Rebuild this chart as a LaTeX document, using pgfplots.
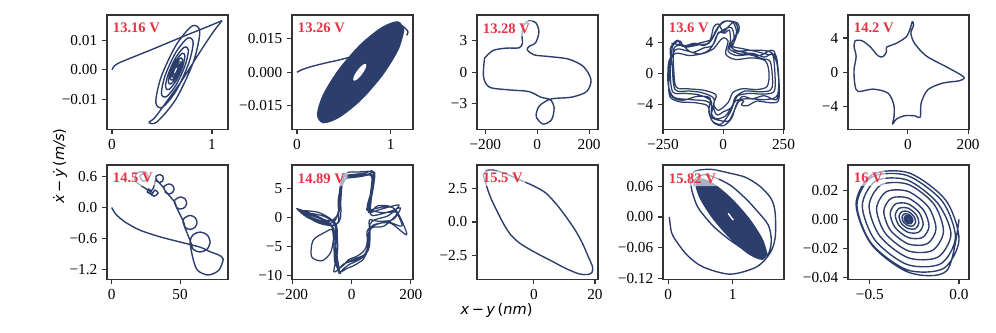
\documentclass[border=0pt]{standalone}
\usepackage{fontspec}
\setmainfont{Liberation Serif}
\newfontfamily\dv{DejaVu Sans}
\usepackage{pgfplots}
\pgfplotsset{compat=1.18}
\definecolor{navy}{HTML}{2C3E6C}
\definecolor{vred}{HTML}{E63446}
\pgfplotsset{
  panel/.style={scale only axis, width=87.12pt, height=82.3pt, anchor=south west,
    axis line style={black!80, line width=0.8pt}, tick align=outside, tick pos=left,
    major tick length=3.5pt, tick style={black!80, line width=0.8pt},
    ticklabel style={font=\fontsize{11}{12}\selectfont}, scaled ticks=false},
  traj/.style={navy, line width=1pt, smooth, mark=none, line join=round},
}
\tikzset{lbl/.style={anchor=north west, fill=white, fill opacity=0.6, text opacity=1,
  text=vred, font=\fontsize{10.5}{12}\selectfont\bfseries, inner sep=2pt, rounded corners=2pt}}

\begin{document}
\begin{tikzpicture}
\useasboundingbox (0,0) rectangle (717.12pt,239.04pt);

% ---------- row 1 ----------
\begin{axis}[panel, at={(77.04pt,145.94pt)}, xmin=-0.05, xmax=1.16, ymin=-0.020, ymax=0.0185,
  xtick={0,1}, xticklabels={0,1}, ytick={-0.01,0,0.01}, yticklabels={−0.01,0.00,0.01}]
  \addplot[traj] coordinates {(0,0) (0.02,0.0012) (0.06,0.0022) (0.15,0.0035) (0.4,0.0069) (0.7,0.0111) (0.95,0.0145) (1.1,0.0166)};
  \addplot[traj] coordinates {(1.1,0.0166) (1.0,0.0122) (0.85,0.0045) (0.7,-0.0035) (0.55,-0.0105) (0.43,-0.0160) (0.37,-0.0177)
    (0.450,-0.0175) (0.640,-0.0098) (0.815,0.0028) (0.878,0.0129) (0.801,0.0148) (0.640,0.0083) (0.491,-0.0024)
    (0.438,-0.0109) (0.503,-0.0126) (0.640,-0.0071) (0.766,0.0021) (0.812,0.0093) (0.756,0.0107) (0.640,0.0060) (0.533,-0.0017)
    (0.494,-0.0079) (0.541,-0.0091) (0.640,-0.0051) (0.731,0.0015) (0.764,0.0067) (0.724,0.0077) (0.640,0.0043) (0.563,-0.0013)
    (0.535,-0.0057) (0.569,-0.0066) (0.640,-0.0037) (0.706,0.0011) (0.729,0.0048) (0.701,0.0056) (0.640,0.0031) (0.584,-0.0009)
    (0.564,-0.0041) (0.589,-0.0047) (0.640,-0.0027) (0.688,0.0008) (0.704,0.0035) (0.684,0.0040) (0.640,0.0023) (0.600,-0.0007)
    (0.585,-0.0030) (0.603,-0.0034) (0.640,-0.0019) (0.674,0.0006) (0.686,0.0025) (0.671,0.0029) (0.640,0.0016) (0.611,-0.0005)
    (0.601,-0.0021) (0.613,-0.0025) (0.640,-0.0014) (0.665,0.0004) (0.674,0.0018) (0.663,0.0021) (0.640,0.0012) (0.619,-0.0003)
    (0.612,-0.0015) (0.621,-0.0017) (0.640,-0.0010) (0.657,0.0003) (0.664,0.0013) (0.656,0.0015) (0.640,0.0008)};
  \node[lbl] at (rel axis cs:0.024,0.954) {13.16 V};
\end{axis}

\begin{axis}[panel, at={(210.24pt,145.94pt)}, xmin=-0.053, xmax=1.238, ymin=-0.0255, ymax=0.0256,
  xtick={0,1}, xticklabels={0,1}, ytick={-0.015,0,0.015}, yticklabels={−0.015,0.000,0.015}]
  \addplot[traj, fill=navy] coordinates {(1.140,0.0189) (1.078,0.0225) (0.910,0.0200) (0.680,0.0123) (0.450,0.0012) (0.282,-0.0102)
    (0.220,-0.0189) (0.282,-0.0225) (0.450,-0.0200) (0.680,-0.0123) (0.910,-0.0012) (1.078,0.0102) (1.140,0.0189)};
  \addplot[smooth, draw=none, fill=white] coordinates {(0.740,0.0032) (0.731,0.0038) (0.705,0.0034) (0.670,0.0021) (0.635,0.0002)
    (0.609,-0.0017) (0.600,-0.0032) (0.609,-0.0038) (0.635,-0.0034) (0.670,-0.0021) (0.705,-0.0002) (0.731,0.0017) (0.740,0.0032)};
  \addplot[traj] coordinates {(0,0) (0.05,0.0011) (0.15,0.0025) (0.3,0.0041) (0.45,0.0055) (0.55,0.0066)};
  \addplot[traj] coordinates {(1.10,0.0215) (1.16,0.0195) (1.185,0.0180) (1.17,0.0165)};
  \node[lbl] at (rel axis cs:0.024,0.954) {13.26 V};
\end{axis}

\begin{axis}[panel, at={(343.44pt,145.94pt)}, xmin=-232, xmax=234, ymin=-5.45, ymax=5.45,
  xtick={-200,0,200}, xticklabels={−200,0,200}, ytick={-3,0,3}, yticklabels={−3,0,3}]
  \addplot[traj] coordinates {(-203,1.33) (-171,2.06) (-120,2.29) (-70,2.32) (-57,2.76) (-59,3.55) (-51,4.50) (-32,4.89)
    (-6,4.73) (6.5,3.87) (-6,2.82) (-32,2.44) (-38,2.12) (-12.6,1.65) (44.6,1.49) (121,1.24) (178,0.53) (207,-0.73)
    (190,-1.85) (133,-2.38) (64,-2.51) (38,-2.70) (6.5,-3.27) (-4,-4.23) (22,-4.95) (55,-4.54) (65,-3.43) (51,-2.64)
    (13,-2.38) (-32,-1.85) (-108,-1.69) (-184,-1.43) (-207,-0.42) (-203,1.33)};
  \node[lbl] at (rel axis cs:0.024,0.954) {13.28 V};
\end{axis}

\begin{axis}[panel, at={(477.36pt,145.94pt)}, xmin=-250, xmax=252, ymin=-7.26, ymax=7.56,
  xtick={-250,0,250}, xticklabels={−250,0,250}, ytick={-4,0,4}, yticklabels={−4,0,4}]
  \addplot[traj, line width=0.9pt] coordinates {
    (-215,3.9) (-150,3.6) (-90,4.0) (-50,4.4) (-30,5.6) (0,6.7) (40,6.6) (55,5.2) (30,3.6) (60,2.9) (130,3.0) (200,2.7)
    (228,0.5) (225,-2.8) (180,-3.4) (100,-3.3) (50,-3.6) (30,-5.0) (-10,-6.6) (-50,-6.0) (-45,-4.3) (-70,-3.6) (-140,-3.4)
    (-205,-3.1) (-228,-1.5) (-226,1.5)
    (-195,2.6) (-140,2.3) (-80,2.6) (-40,3.2) (-20,4.0) (0,4.6) (20,4.2) (10,2.5) (50,1.8) (120,2.0) (175,1.6) (190,0)
    (182,-1.7) (140,-2.1) (80,-2.0) (40,-2.5) (20,-3.8) (-20,-4.8) (-40,-4.0) (-30,-2.8) (-80,-2.2) (-150,-2.0) (-195,-1.8)
    (-205,0.2)
    (-205,3.2) (-170,3.6) (-130,2.7) (-80,3.3) (-45,3.6) (-25,5.0) (10,5.8) (35,5.9) (45,4.6) (25,3.2) (70,2.5) (120,2.6)
    (170,2.1) (205,2.4) (215,-0.5) (210,-2.4) (160,-2.7) (110,-2.6) (60,-2.9) (45,-3.8) (10,-5.5) (-30,-5.9) (-50,-5.2)
    (-50,-3.6) (-100,-2.8) (-160,-2.6) (-210,-2.4) (-220,0.5)
    (-210,3.5) (-180,4.2) (-160,3.4) (-100,3.7) (-60,3.9) (-40,4.8) (-15,6.2) (15,6.8) (60,6.5) (65,5.5) (35,4.0) (45,3.0)
    (90,2.7) (150,2.3) (210,2.9) (230,-1.0) (222,-3.4) (170,-2.9) (120,-3.3) (80,-3.0) (55,-4.0) (35,-5.8) (0,-6.8)
    (-40,-6.4) (-60,-5.0) (-55,-3.2) (-110,-3.0) (-170,-3.5) (-218,-2.8) (-230,0)
    (-200,3.0) (-150,2.9) (-100,2.5) (-60,3.0) (-35,4.1) (-20,5.3) (5,5.2) (25,5.6) (30,4.3) (20,2.9) (55,2.3) (110,2.4)
    (160,1.9) (195,1.5) (205,-1.2) (195,-2.2) (150,-2.4) (90,-2.3) (50,-3.1) (35,-4.4) (0,-5.0) (-25,-5.4) (-40,-4.6)
    (-40,-3.2) (-90,-2.5) (-140,-2.3) (-200,-2.1) (-212,1)
    (-220,3.2) (-190,4.3) (-170,3.5) (-120,3.9) (-80,3.6) (-55,4.2) (-40,6.0) (-20,6.4) (0,5.4) (20,6.0) (45,6.7) (60,5.8)
    (50,4.4) (40,3.5) (80,3.2) (140,2.8) (190,2.4) (220,2.2) (232,-1.5) (228,-3.6) (190,-3.8) (140,-3.6) (100,-4.2)
    (75,-4.1) (85,-3.6) (65,-3.6) (40,-5.2) (20,-6.2) (-30,-6.0) (-55,-5.5) (-65,-4.2) (-120,-3.8) (-180,-3.7) (-222,-3.0)
    (-225,-0.5) (-215,2.5)};
  \node[lbl] at (rel axis cs:0.024,0.954) {13.6 V};
\end{axis}

\begin{axis}[panel, at={(610.56pt,145.94pt)}, xmin=-199, xmax=203, ymin=-6.7, ymax=6.7,
  xtick={0,200}, xticklabels={0,200}, ytick={-4,0,4}, yticklabels={−4,0,4}]
  \addplot[traj] coordinates {(-175.6,3.70) (-153.6,3.70) (-126,3.0) (-99,1.91) (-82,1.83) (-71,2.41) (-71,2.92) (-38,3.39)
    (-5,4.16) (8,5.15) (14.5,5.92) (19,5.53) (10,4.56) (22,3.39) (60.6,1.91) (126.5,0.65) (176,-0.32) (187,-0.70)
    (170,-1.02) (115,-1.29) (66,-2.07) (44,-3.63) (41,-5.26) (22,-5.11) (-11,-5.11) (-38,-5.5) (-51,-6.08) (-46,-5.19)
    (-47,-3.82) (-66,-2.46) (-115,-1.99) (-165,-2.27) (-176,-1.49) (-179,0.27) (-172,1.83) (-179,3.0) (-175.6,3.70)};
  \node[lbl] at (rel axis cs:0.024,0.954) {14.2 V};
\end{axis}

% ---------- row 2 ----------
\begin{axis}[panel, at={(77.04pt,37.94pt)}, xmin=-3.4, xmax=85, ymin=-1.394, ymax=0.825,
  xtick={0,50}, xticklabels={0,50}, ytick={-1.2,-0.6,0,0.6}, yticklabels={−1.2,−0.6,0.0,0.6}]
  \addplot[traj] coordinates {(0,0) (3.1,-0.13) (9.7,-0.28) (20.7,-0.44) (35.4,-0.57) (50,-0.67) (64.6,-0.77) (72,-0.86)
    (78,-0.92) (81.5,-1.0) (78.2,-1.22) (70.5,-1.31) (62.8,-1.22) (59.5,-1.0)
    (57.3,-0.67) (59.5,-0.53) (64.6,-0.476) (69.7,-0.53) (71.9,-0.67) (69.7,-0.81) (64.6,-0.864) (59.5,-0.81) (57.6,-0.66)
    (52.2,-0.29) (53.7,-0.195) (57.3,-0.154) (60.9,-0.195) (62.4,-0.29) (60.9,-0.385) (57.3,-0.426) (53.7,-0.385) (52.4,-0.27)
    (46.0,0.087) (47.3,0.169) (50.4,0.204) (53.5,0.169) (54.8,0.087) (53.5,0.005) (50.4,-0.03) (47.3,0.005) (46.2,0.10)
    (38.2,0.36) (39.3,0.428) (41.9,0.457) (44.5,0.428) (45.6,0.36) (44.5,0.292) (41.9,0.263) (39.3,0.292) (38.4,0.37)
    (32.1,0.563) (33,0.618) (35,0.641) (37,0.618) (37.9,0.563) (37,0.508) (35,0.485) (33,0.508) (32.3,0.57)
    (30.5,0.38) (28,0.28) (31,0.22) (34,0.28) (31.5,0.34) (29.5,0.26) (26,0.30) (27,0.36) (29,0.30)
    (20.7,0.44) (17,0.53) (18.5,0.67) (24.4,0.69) (27,0.57) (23,0.51) (20.7,0.61) (23,0.66)};
  \node[lbl] at (rel axis cs:0.024,0.954) {14.5 V};
\end{axis}

\begin{axis}[panel, at={(210.24pt,37.94pt)}, xmin=-201, xmax=207, ymin=-10.7, ymax=9.0,
  xtick={-200,0,200}, xticklabels={−200,0,200}, ytick={-10,-5,0,5}, yticklabels={−10,−5,0,5}]
  \addplot[traj, line width=0.9pt] coordinates {
    (-25,7.2) (10,7.4) (45,7.6) (72,7.9) (68,5.2) (60,2.2) (58,0.8) (100,1.4) (160,2.1) (125,0.3) (80,-0.4) (62,-1.2)
    (58,-3.5) (52,-5.6) (35,-7.0) (15,-7.6) (-10,-8.2) (-30,-9.0) (-42,-9.7) (-52,-7.5) (-55,-4.5) (-62,-1.8) (-100,-0.2)
    (-180,1.4) (-145,0.2) (-85,-0.8) (-48,0.2) (-40,2.5) (-33,5.2)
    (-15,7.0) (20,7.2) (55,7.4) (78,7.7) (72,4.8) (63,2.6) (52,1.2) (110,1.8) (150,1.2) (186,-3.0) (130,-1.0) (75,-1.3)
    (52,-2.5) (55,-4.8) (45,-6.6) (22,-7.2) (0,-7.6) (-25,-8.0) (-45,-9.0) (-60,-9.3) (-48,-6.2) (-48,-3.5) (-55,-1.0)
    (-110,0.8) (-170,1.0) (-120,-0.8) (-75,-1.4) (-45,-0.8) (-45,3.0) (-35,5.6)
    (-30,7.4) (0,7.0) (40,7.2) (68,7.3) (65,4.6) (58,1.8) (70,0.3) (130,1.0) (165,1.6) (140,-0.4) (90,-0.7) (60,-0.5)
    (62,-2.8) (60,-5.0) (50,-6.2) (30,-6.8) (5,-7.3) (-20,-7.9) (-35,-8.6) (-55,-8.2) (-60,-5.0) (-65,-2.2) (-90,-2.6)
    (-130,-4.0) (-135,-6.8) (-100,-7.5) (-70,-6.0) (-60,-3.0) (-70,-1.5) (-130,0.5) (-175,1.2) (-130,0.2) (-70,-0.6)
    (-42,1.0) (-38,4.2)
    (-20,7.5) (25,7.8) (60,7.9) (75,7.6) (70,5.5) (66,3.0) (64,1.0) (90,2.0) (140,1.6) (170,-1.5) (120,-0.8) (70,-1.6)
    (60,-3.0) (58,-5.2) (40,-7.2) (25,-7.8) (5,-8.4) (-15,-8.8) (-38,-9.4) (-45,-8.0) (-52,-5.5) (-58,-2.5) (-80,-0.8)
    (-150,0.6) (-185,1.5) (-150,0.0) (-90,-1.2) (-55,-0.5) (-42,1.8) (-40,4.8) (-28,7.0)
    (-10,6.8) (30,7.0) (65,7.2) (70,5.0) (58,3.0) (55,1.5) (100,0.8) (155,0.8) (110,-1.5) (68,-1.8) (55,-3.2) (50,-5.0)
    (38,-6.0) (15,-6.8) (-10,-7.3) (-30,-8.4) (-48,-8.8) (-55,-6.8) (-52,-4.0) (-58,-1.2) (-95,0.2) (-165,0.8) (-115,-0.6)
    (-60,-1.4) (-38,-0.2) (-36,3.2) (-30,6.0) (-10,6.8)};
  \node[lbl] at (rel axis cs:0.024,0.954) {14.89 V};
\end{axis}

\begin{axis}[panel, at={(343.44pt,37.94pt)}, xmin=-18.6, xmax=21, ymin=-4.31, ymax=4.28,
  xtick={0,20}, xticklabels={0,20}, ytick={-2.5,0,2.5}, yticklabels={−2.5,0.0,2.5}]
  \addplot[traj] coordinates {(-16.6,3.5) (-15.5,3.85) (-13.3,3.9) (-9,3.6) (-4.6,3.16) (0,2.7) (4,2.16) (7.5,1.3)
    (10.5,0.4) (13.5,-0.6) (15.9,-1.6) (17.8,-2.6) (19.2,-3.36) (19.0,-3.8) (17.5,-3.95) (14.8,-3.9) (10.5,-3.5)
    (6.2,-2.98) (0.5,-2.3) (-4.6,-1.6) (-7.8,-0.9) (-10,-0.1) (-12,0.8) (-13.8,1.65) (-15.2,2.5) (-16,3.16) (-16.6,3.5)};
  \node[lbl] at (rel axis cs:0.024,0.954) {15.5 V};
\end{axis}

\begin{axis}[panel, at={(477.36pt,37.94pt)}, xmin=-0.082, xmax=1.797, ymin=-0.121, ymax=0.101,
  xtick={0,1}, xticklabels={0,1}, ytick={-0.12,-0.06,0,0.06}, yticklabels={−0.12,−0.06,0.00,0.06}]
  \addplot[traj] coordinates {(0.016,0.0) (0.05,-0.03) (0.13,-0.048) (0.3,-0.075) (0.54,-0.097) (0.96,-0.111) (1.37,-0.097)
    (1.58,-0.07) (1.66,-0.04) (1.66,0.0074) (1.60,0.035) (1.43,0.059) (1.2,0.077) (0.96,0.085) (0.7,0.092) (0.54,0.092)
    (0.40,0.088) (0.35,0.075) (0.36,0.055) (0.42,0.03) (0.49,0.013) (0.7,-0.018) (0.96,-0.045) (1.2,-0.065) (1.37,-0.078)
    (1.55,-0.072) (1.6,-0.045) (1.55,-0.015) (1.37,0.013) (1.2,0.036) (0.96,0.062) (0.7,0.078) (0.54,0.082) (0.42,0.074)
    (0.40,0.06)};
  \addplot[traj, fill=navy] coordinates {(1.530,-0.0716) (1.456,-0.082) (1.255,-0.0716) (0.980,-0.043) (0.705,-0.004)
    (0.504,0.035) (0.430,0.0636) (0.504,0.074) (0.705,0.0636) (0.980,0.035) (1.255,-0.004) (1.456,-0.043) (1.530,-0.0716)};
  \addplot[white, line width=1pt, mark=none] coordinates {(0.93,0.007) (1.01,-0.006)};
  \node[lbl] at (rel axis cs:0.024,0.954) {15.82 V};
\end{axis}

\begin{axis}[panel, at={(610.56pt,37.94pt)}, xmin=-0.622, xmax=0.056, ymin=-0.0415, ymax=0.0376,
  xtick={-0.5,0}, xticklabels={−0.5,0.0}, ytick={-0.04,-0.02,0,0.02}, yticklabels={−0.04,−0.02,0.00,0.02}]
  \addplot[traj] coordinates {(0.0,0.0)
    (-0.068,-0.0355) (-0.28,-0.0368) (-0.49,-0.0175) (-0.577,0.0105) (-0.488,0.0309) (-0.28,0.0321) (-0.074,0.0132)
    (0.0,-0.0141) (-0.087,-0.034) (-0.29,-0.035) (-0.49,-0.0168) (-0.572,0.0099) (-0.488,0.0293) (-0.29,0.0303) (-0.094,0.0125)
    (-0.02,-0.0124) (-0.102,-0.0307) (-0.29,-0.0313) (-0.471,-0.0144) (-0.542,0.0096) (-0.465,0.0267) (-0.29,0.0272) (-0.121,0.0114)
    (-0.045,-0.0101) (-0.119,-0.0262) (-0.285,-0.0266) (-0.443,-0.0117) (-0.504,0.0092) (-0.436,0.0239) (-0.285,0.0242) (-0.141,0.0106)
    (-0.087,-0.0083) (-0.149,-0.0215) (-0.285,-0.0218) (-0.414,-0.0095) (-0.462,0.0075) (-0.406,0.0192) (-0.285,0.0193) (-0.171,0.0084)
    (-0.129,-0.0066) (-0.178,-0.0169) (-0.285,-0.0170) (-0.385,-0.0074) (-0.4215,0.0058) (-0.378,0.0147) (-0.285,0.0147) (-0.199,0.0064)
    (-0.168,-0.0049) (-0.205,-0.0126) (-0.285,-0.0126) (-0.359,-0.0055) (-0.3855,0.0042) (-0.353,0.0108) (-0.285,0.0107) (-0.223,0.0046)
    (-0.201,-0.0035) (-0.228,-0.0090) (-0.285,-0.0090) (-0.338,-0.0039) (-0.357,0.0030) (-0.334,0.0077) (-0.285,0.0077) (-0.2405,0.0033)
    (-0.225,-0.0025) (-0.244,-0.0064) (-0.285,-0.0064) (-0.323,-0.0028) (-0.336,0.0022) (-0.3195,0.0054) (-0.285,0.0054) (-0.254,0.0023)
    (-0.243,-0.0018) (-0.257,-0.0045) (-0.285,-0.0044) (-0.311,-0.0019) (-0.3195,0.0015) (-0.308,0.0037) (-0.285,0.0036) (-0.265,0.0015)
    (-0.258,-0.0011) (-0.267,-0.0029) (-0.285,-0.0029) (-0.302,-0.0012) (-0.3075,0.0009) (-0.300,0.0024) (-0.285,0.0024) (-0.2715,0.0010)
    (-0.267,-0.0008) (-0.273,-0.0019) (-0.285,-0.0018) (-0.295,-0.0008) (-0.2985,0.0006) (-0.294,0.0015) (-0.285,0.0014) (-0.278,0.0006)
    (-0.276,-0.0004) (-0.279,-0.0009) (-0.285,-0.0009) (-0.290,-0.0004) (-0.2915,0.0003) (-0.289,0.0007) (-0.285,0.0006) (-0.282,0.0003)};
  \node[lbl] at (rel axis cs:0.024,0.954) {16 V};
\end{axis}

% ---------- shared labels ----------
\node[font=\dv\fontsize{10.5}{12}\selectfont] at (357.5pt,15.8pt) {\textit{x}\,−\,\textit{y}\,(\textit{nm})};
\node[rotate=90, font=\dv\fontsize{10.5}{12}\selectfont] at (43.2pt,119.5pt) {\textit{ẋ}\,−\,\textit{ẏ}\,(\textit{m/s})};
\end{tikzpicture}
\end{document}
